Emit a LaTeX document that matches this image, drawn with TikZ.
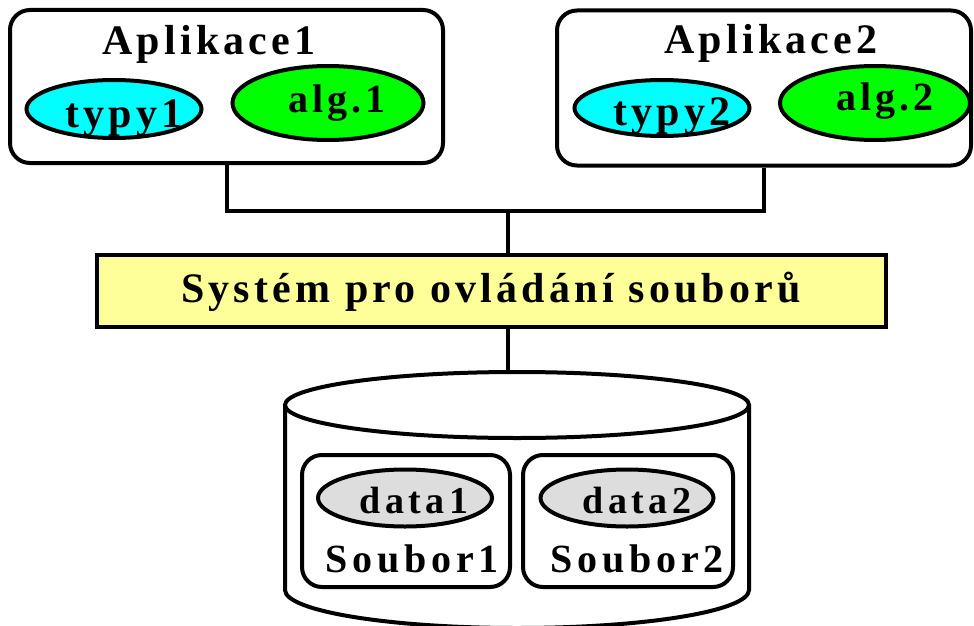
\documentclass[tikz,border=0pt]{standalone}
\usepackage{fontspec}
\usepackage{tikz}
\usetikzlibrary{shapes.geometric}
\newfontfamily\lsfont[LetterSpace=10]{Liberation Serif} % prostrkane pismo
\newfontfamily\wsfont[LetterSpace=12]{Liberation Serif}
\definecolor{typcol}{RGB}{0,255,255}
\definecolor{algcol}{RGB}{0,255,0}
\definecolor{syscol}{RGB}{255,255,153}
\definecolor{datcol}{RGB}{221,221,221}
\tikzset{
    box/.style={draw, rectangle, rounded corners=20pt, inner sep=0pt, fill=white}, % okno aplikace / souboru
    oval/.style={draw, ellipse, inner sep=0pt}, % typy, algoritmy, data
    big/.style={font=\lsfont\bfseries\fontsize{42}{42}\selectfont, anchor=base},
    alg/.style={font=\lsfont\bfseries\fontsize{40}{40}\selectfont, anchor=base},
    mid/.style={font=\wsfont\bfseries\fontsize{40}{40}\selectfont, anchor=base},
    small/.style={font=\wsfont\bfseries\fontsize{38}{38}\selectfont, anchor=base}
}

\begin{document}
\begin{tikzpicture}[x=1pt, y=-1pt, line width=4pt]
    \useasboundingbox (0,0) rectangle (974,626);

    % aplikace
    \node[box, minimum width=433pt, minimum height=153pt] (app1) at (226.5,86.5) {};
    \node[box, minimum width=414pt, minimum height=155pt] (app2) at (764,88) {};
    \node[big] (t-app1) at (209,55) {Aplikace1};
    \node[big] (t-app2) at (771,54) {Aplikace2};

    \node[oval, fill=typcol, minimum width=175pt, minimum height=58pt] (typ1) at (114,109) {};
    \node[oval, fill=algcol, minimum width=191pt, minimum height=74pt] (alg1) at (328,103) {};
    \node[oval, fill=typcol, minimum width=175pt, minimum height=56pt] (typ2) at (662,108) {};
    \node[oval, fill=algcol, minimum width=190pt, minimum height=74pt] (alg2) at (875,103) {};
    \node[big] (t-typ1) at (124,127) {typy1};
    \node[alg] (t-alg1) at (337,112) {alg.1};
    \node[big] (t-typ2) at (672,125) {typy2};
    \node[alg] (t-alg2) at (885,110) {alg.2};

    % system
    \node[draw, rectangle, fill=syscol, inner sep=0pt, minimum width=789pt, minimum height=72pt] (sys) at (491.5,291) {};
    \node[big] (t-sys) at (491,302) {Systém pro ovládání souborů};

    \coordinate (bus) at (508,211);
    \coordinate (cyltop) at (517,372);
    \draw (app1.south) |- (bus) -| (app2.south);
    \draw (bus) -- (bus |- sys.north);
    \draw (bus |- sys.south) -- (bus |- cyltop);

    % disk
    \draw[fill=white] (285,405) -- (285,590) arc[start angle=180, end angle=360, x radius=232pt, y radius=38pt] -- (749,405);
    \draw[fill=white] (517,405) ellipse [x radius=232pt, y radius=33pt];

    \node[box, minimum width=208pt, minimum height=132pt] (sb1) at (406,521) {};
    \node[box, minimum width=210pt, minimum height=132pt] (sb2) at (628,521) {};
    \node[oval, fill=datcol, minimum width=174pt, minimum height=57pt] (dat1) at (405,498) {};
    \node[oval, fill=datcol, minimum width=173pt, minimum height=57pt] (dat2) at (627,498) {};
    \node[small] (t-dat1) at (414,513) {data1};
    \node[small] (t-dat2) at (637,513) {data2};
    \node[mid] (t-sb1) at (412,572) {Soubor1};
    \node[mid] (t-sb2) at (637,572) {Soubor2};
\end{tikzpicture}
\end{document}
